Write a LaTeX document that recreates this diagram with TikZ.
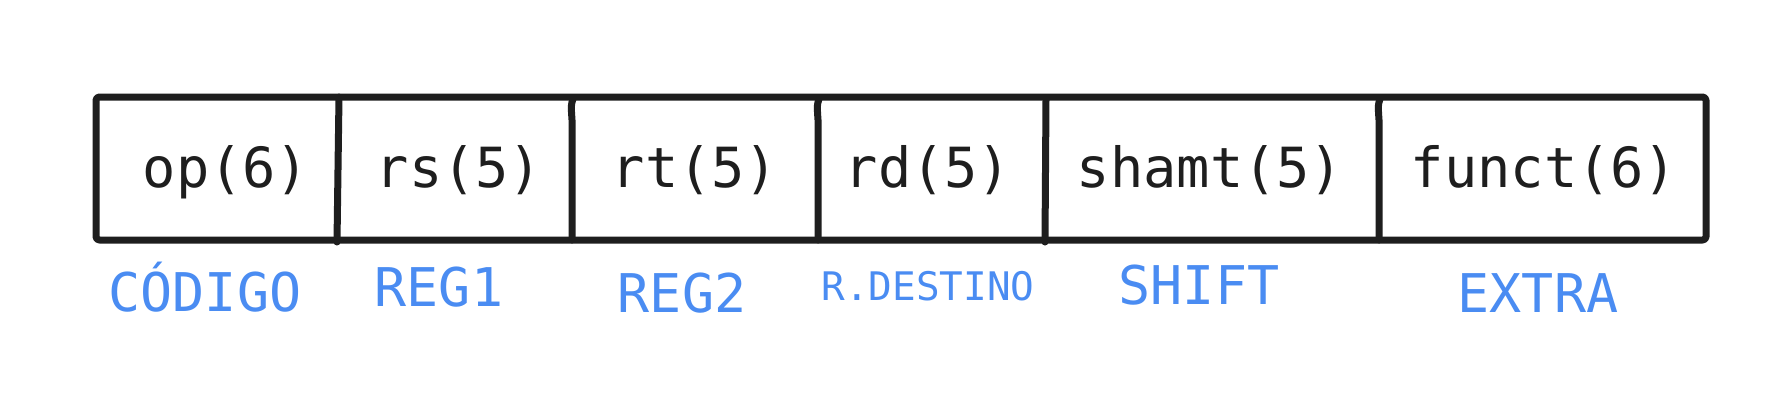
\documentclass[tikz,border=0pt]{standalone}
\usepackage{fontspec}
\setmonofont{DejaVu Sans Mono}
\definecolor{ink}{HTML}{1E1E1E}
\definecolor{lblblue}{HTML}{4A8CF2}
\begin{document}
\begin{tikzpicture}[x=0.75pt,y=-0.75pt,
  frame/.style={draw=ink,line width=5.25pt,line join=round,line cap=round,rounded corners=2.5pt},
  divider/.style={draw=ink,line width=5.25pt,line cap=round},
  fieldtext/.style={anchor=base,inner sep=0pt,text=ink,font=\ttfamily\fontsize{41.5}{41.5}\selectfont},
  biglabel/.style={anchor=base,inner sep=0pt,text=lblblue,font=\ttfamily\fontsize{40}{40}\selectfont},
  smalllabel/.style={anchor=base,inner sep=0pt,text=lblblue,font=\ttfamily\fontsize{29.5}{29.5}\selectfont}]
\useasboundingbox (0,0) rectangle (1791,400);
\fill[white] (0,0) rectangle (1791,400);
% outer frame
\coordinate (tl) at (96,97);
\coordinate (br) at (1706,240);
\draw[frame] (tl) rectangle (br);
% dividers
\coordinate (d1t) at (339,97);  \coordinate (d1b) at (337,242);
\coordinate (d2t) at (573,99);  \coordinate (d2b) at (572,240);
\coordinate (d3t) at (819,99);  \coordinate (d3b) at (818,240);
\coordinate (d4t) at (1046,99); \coordinate (d4b) at (1045,242);
\coordinate (d5t) at (1380,99); \coordinate (d5b) at (1379,240);
\draw[divider] (d1t) -- (d1b);
\draw[divider] (d2t) .. controls (571,105) .. (572,120) -- (d2b);
\draw[divider] (d3t) .. controls (817,105) .. (818,120) -- (d3b);
\draw[divider] (d4t) -- (d4b);
\draw[divider] (d5t) .. controls (1378,105) .. (1379,120) -- (d5b);
% field texts
\node[fieldtext] (op) at (226,187) {op(6)};
\node[fieldtext] (rs) at (459,187) {rs(5)};
\node[fieldtext] (rt) at (695,187) {rt(5)};
\node[fieldtext] (rd) at (928,187) {rd(5)};
\node[fieldtext] (shamt) at (1210,187) {shamt(5)};
\node[fieldtext] (funct) at (1544,187) {funct(6)};
% labels
\node[biglabel] (codigo) at (205,311) {CÓDIGO};
\node[biglabel] (reg1) at (439,306) {REG1};
\node[biglabel] (reg2) at (682,312) {REG2};
\node[smalllabel] (rdest) at (928,300) {R.DESTINO};
\node[biglabel] (shift) at (1199,304) {SHIFT};
\node[biglabel] (extra) at (1538,312) {EXTRA};
\end{tikzpicture}
\end{document}
